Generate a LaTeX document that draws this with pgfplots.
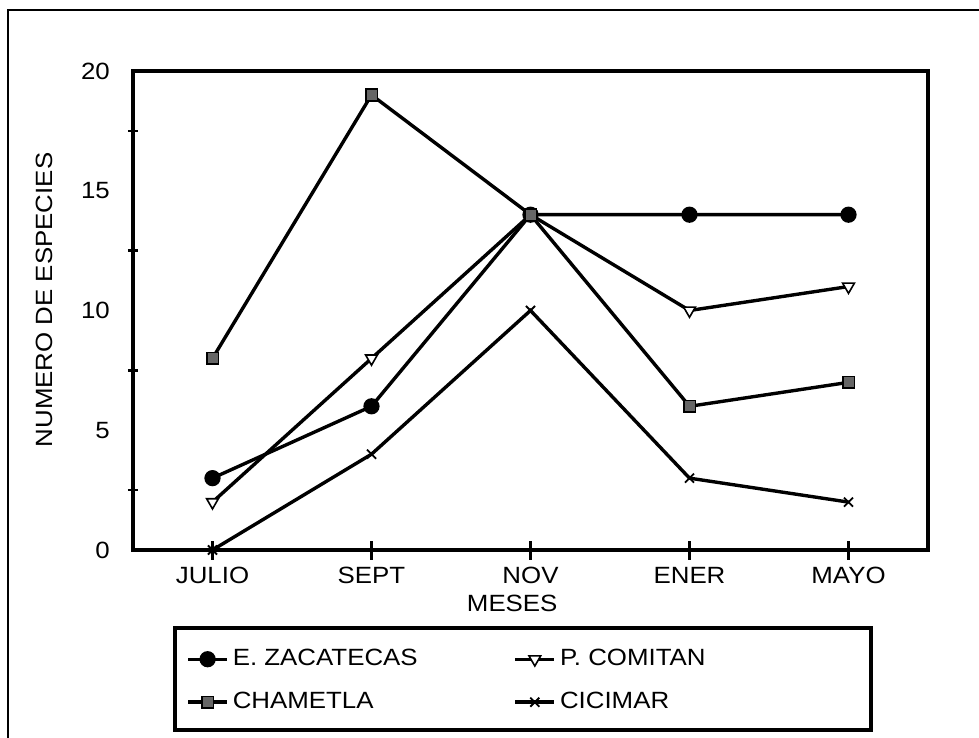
\documentclass[border=0pt]{standalone}
\usepackage{fontspec}
\setmainfont{Liberation Sans}[FakeStretch=1.1]
\usepackage{pgfplots}
\pgfplotsset{compat=1.18}
\begin{document}
\fontsize{11.75}{14}\selectfont
\begin{tikzpicture}
\useasboundingbox (-66.5pt,-94pt) rectangle (423pt,275pt);
\clip (-66.5pt,-94pt) rectangle (423pt,275pt);
\draw[line width=1.1pt] (-62.5pt,-200pt) rectangle (500pt,270pt);
\begin{axis}[
  at={(0,0)}, anchor=south west, scale only axis,
  width=397.5pt, height=239.5pt,
  xmin=-0.5, xmax=4.5, ymin=0, ymax=20,
  xtick={0,1,2,3,4}, xticklabels={JULIO,SEPT,NOV,ENER,MAYO},
  ytick={0,5,10,15,20}, minor ytick={2.5,7.5,12.5,17.5},
  xtick pos=bottom, ytick pos=left, tick align=center,
  major tick length=9.5pt, minor tick length=5pt,
  every major y tick/.append style={opacity=0},
  every tick/.append style={black, line width=1.2pt},
  axis line style={line width=1.7pt},
  /pgf/number format/assume math mode=true,
  xticklabel style={anchor=base, yshift=-12pt},
  yticklabel style={anchor=east, xshift=-2.7pt},
  xlabel={MESES},
  xlabel style={at={(axis description cs:0.477,-0.112)}, anchor=center},
  ylabel={NUMERO DE ESPECIES},
  ylabel style={at={(axis description cs:-0.112,0.522)}, anchor=center},
  every axis plot/.append style={black, line width=1.7pt},
  legend columns=2,
  legend cell align=left,
  legend image code/.code={\draw[mark repeat=2,mark phase=2,#1] plot coordinates {(0pt,0pt)(9.75pt,0pt)(19.5pt,0pt)};},
  legend style={draw=none, fill=none, inner sep=0pt, row sep=7.5pt,
    at={(axis description cs:0.0667,-0.198)}, anchor=north west,
    /tikz/every even column/.append style={column sep=46pt}},
]
\addplot[mark=*, mark size=3.2pt, mark options={solid, fill=black}]
  coordinates {(0,3) (1,6) (2,14) (3,14) (4,14)};
\addlegendentry{E. ZACATECAS}
\addplot[mark=triangle*, mark size=3.4pt, mark options={solid, rotate=180, fill=white, line width=0.8pt}]
  coordinates {(0,2) (1,8) (2,14) (3,10) (4,11)};
\addlegendentry{P. COMITAN}
\addplot[mark=square*, mark size=2.9pt, mark options={solid, fill=black!60, line width=0.8pt}]
  coordinates {(0,8) (1,19) (2,14) (3,6) (4,7)};
\addlegendentry{CHAMETLA}
\addplot[mark=x, mark size=3.2pt, mark options={solid, line width=0.9pt}]
  coordinates {(0,0) (1,4) (2,10) (3,3) (4,2)};
\addlegendentry{CICIMAR}
\end{axis}
\draw[line width=1.8pt] (21pt,-39pt) rectangle (369pt,-90pt);
\end{tikzpicture}
\end{document}
